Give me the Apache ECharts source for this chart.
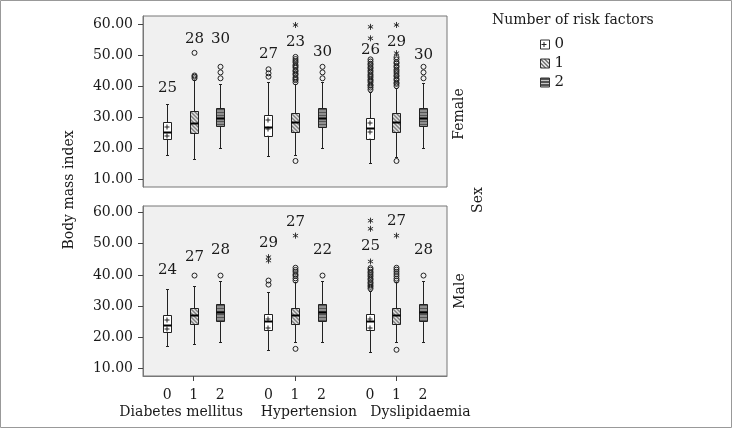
<!DOCTYPE html>
<html><head><meta charset="utf-8">
<script src="https://cdn.jsdelivr.net/npm/echarts@6/dist/echarts.min.js"></script>
<style>html,body{margin:0;padding:0;background:#fff}#c{width:732px;height:429px}</style>
</head><body><div id="c"></div>
<script>
// ---------- data ----------
const categories = ['Diabetes mellitus', 'Hypertension', 'Dyslipidaemia'];
const riskGroups = ['0', '1', '2'];
const panelNames = ['Female', 'Male'];
const yTicks = [10, 20, 30, 40, 50, 60];

// box stats per category: [min, Q1, median, Q3, max]
const femaleBox0 = [[17.7, 22.8, 25.3, 28.3, 34.2], [17.4, 23.9, 26.7, 30.6, 41.4], [15.0, 22.8, 26.4, 29.6, 38.2]];
const femaleBox1 = [[16.3, 24.7, 28.0, 31.9, 41.9], [17.7, 25.3, 28.3, 31.4, 40.6], [17.2, 25.3, 28.3, 31.4, 39.3]];
const femaleBox2 = [[20.1, 27.1, 29.6, 32.8, 40.6], [20.1, 26.9, 29.6, 32.8, 41.4], [20.1, 27.1, 29.6, 32.8, 41.0]];
const maleBox0 = [[17.1, 21.6, 23.8, 27.3, 35.5], [16.0, 22.4, 25.2, 27.5, 34.5], [15.2, 22.2, 25.2, 27.5, 35.0]];
const maleBox1 = [[17.9, 24.3, 27.0, 29.5, 36.3], [18.4, 24.3, 27.0, 29.5, 37.7], [18.4, 24.3, 27.0, 29.5, 37.7]];
const maleBox2 = [[18.4, 25.2, 28.0, 30.7, 37.9], [18.4, 25.2, 28.0, 30.7, 37.9], [18.4, 25.2, 28.0, 30.7, 37.9]];

// outliers (circles) per category
const femaleCircles0 = [[], [43.0, 44.1, 45.4], [38.8, 39.5, 40.1, 40.4, 41.2, 41.7, 42.1, 42.8, 43.3, 43.8, 44.5, 45.0, 45.7, 46.1, 46.8, 47.2, 47.9, 48.6]];
const femaleCircles1 = [[42.5, 43.0, 43.4, 50.7], [15.8, 41.2, 41.9, 42.3, 42.8, 43.6, 44.0, 44.7, 45.1, 45.9, 46.4, 46.8, 47.6, 48.1, 48.7, 49.4], [15.8, 40.0, 40.7, 41.1, 41.9, 42.3, 43.1, 43.5, 44.2, 44.8, 45.3, 46.1, 46.5, 47.3, 47.7, 48.6, 49.3]];
const femaleCircles2 = [[42.5, 44.4, 46.2], [42.5, 44.4, 46.2], [42.5, 44.4, 46.2]];
const maleCircles0 = [[], [36.9, 38.2], [35.6, 36.2, 36.7, 37.3, 37.7, 38.4, 38.8, 39.5, 40.0, 40.6, 41.0, 41.7, 42.2]];
const maleCircles1 = [[39.8], [16.3, 38.2, 38.9, 39.7, 40.2, 41.0, 41.6, 42.3], [16.0, 38.2, 38.8, 39.6, 40.3, 41.0, 41.7, 42.3]];
const maleCircles2 = [[39.8], [39.8], [39.8]];

// extreme values (stars) per category
const femaleStars0 = [[], [], [55.4, 59.1]];
const femaleStars1 = [[], [59.7], [50.6, 59.7]];
const femaleStars2 = [[], [], []];
const maleStars0 = [[], [44.6, 45.7], [44.3, 54.8, 57.4]];
const maleStars1 = [[], [52.6], [52.6]];
const maleStars2 = [[], [], []];

// count labels and the BMI level at which each is written
const femaleCount0 = [25, 27, 26];
const femaleCount1 = [28, 23, 29];
const femaleCount2 = [30, 30, 30];
const maleCount0 = [24, 29, 25];
const maleCount1 = [27, 27, 27];
const maleCount2 = [28, 22, 28];
const femaleLabelAt0 = [39.4, 50.2, 51.6];
const femaleLabelAt1 = [55.1, 54.1, 54.1];
const femaleLabelAt2 = [55.1, 51.1, 50.0];
const maleLabelAt0 = [41.4, 50.2, 49.4];
const maleLabelAt1 = [45.7, 56.9, 57.4];
const maleLabelAt2 = [47.8, 47.8, 47.8];

// ---------- styling ----------
const FONT = 'DejaVu Serif';
const TXT = '#1a1a1a';
const OFFSET = 0.262;   // fraction of category band between neighbouring risk groups
const BOX_W = 8, CAP_W = 3;

function makePattern(w, h, draw) {
  const c = document.createElement('canvas');
  c.width = w; c.height = h;
  const g = c.getContext('2d');
  draw(g);
  return { image: c, repeat: 'repeat' };
}
const patterns = [
  makePattern(8, 9, g => { g.fillStyle = '#fff'; g.fillRect(0, 0, 8, 9); g.fillStyle = '#222'; g.fillRect(3, 2, 1, 5); g.fillRect(1, 4, 5, 1); }),
  makePattern(4, 4, g => { g.fillStyle = '#fff'; g.fillRect(0, 0, 4, 4); g.strokeStyle = '#333'; g.lineWidth = 1.1;
    g.beginPath(); g.moveTo(-1, -1); g.lineTo(5, 5); g.moveTo(-1, 3); g.lineTo(1, 5); g.moveTo(3, -1); g.lineTo(5, 1); g.stroke(); }),
  makePattern(1, 3, g => { g.fillStyle = '#555'; g.fillRect(0, 0, 1, 3); g.fillStyle = '#c8c8c8'; g.fillRect(0, 2, 1, 1); })
];

const panelData = [
  { box: [femaleBox0, femaleBox1, femaleBox2], circles: [femaleCircles0, femaleCircles1, femaleCircles2],
    stars: [femaleStars0, femaleStars1, femaleStars2], counts: [femaleCount0, femaleCount1, femaleCount2],
    labelAt: [femaleLabelAt0, femaleLabelAt1, femaleLabelAt2] },
  { box: [maleBox0, maleBox1, maleBox2], circles: [maleCircles0, maleCircles1, maleCircles2],
    stars: [maleStars0, maleStars1, maleStars2], counts: [maleCount0, maleCount1, maleCount2],
    labelAt: [maleLabelAt0, maleLabelAt1, maleLabelAt2] }
];

function xPos(api, cat, risk, v) {
  const band = api.size([1, 0])[0];
  return Math.round(api.coord([cat, v])[0] + (risk - 1) * band * OFFSET) + 0.5;
}
function ln(x1, y1, x2, y2, w, c) {
  return { type: 'line', shape: { x1, y1, x2, y2 }, style: { stroke: c || '#222', lineWidth: w || 1 } };
}
function boxRenderer(risk) {
  return function (params, api) {
    const cat = api.value(0);
    const x = xPos(api, cat, risk, api.value(3));
    const Y = k => Math.round(api.coord([cat, api.value(k)])[1]) + 0.5;
    const yMin = Y(1), yQ1 = Y(2), yMed = Y(3), yQ3 = Y(4), yMax = Y(5);
    const h = BOX_W / 2;
    return { type: 'group', children: [
      ln(x, yQ3, x, yMax, 1, '#222'), ln(x, yQ1, x, yMin, 1, '#222'),
      ln(x - CAP_W / 2, yMax, x + CAP_W / 2, yMax, 1, '#222'),
      ln(x - CAP_W / 2, yMin, x + CAP_W / 2, yMin, 1, '#222'),
      { type: 'rect', x: x - h, y: yQ3, shape: { x: 0, y: 0, width: BOX_W, height: yQ1 - yQ3 },
        style: { fill: patterns[risk], stroke: '#222', lineWidth: 1 } },
      ln(x - h, yMed, x + h, yMed, 2, '#000')
    ] };
  };
}
function circleRenderer(risk) {
  return function (params, api) {
    const cat = api.value(0), v = api.value(1);
    const x = xPos(api, cat, risk, v), y = api.coord([cat, v])[1];
    return { type: 'circle', shape: { cx: x, cy: y, r: 2.5 }, style: { fill: 'none', stroke: '#222', lineWidth: 1 } };
  };
}
function starRenderer(risk) {
  return function (params, api) {
    const cat = api.value(0), v = api.value(1);
    const x = xPos(api, cat, risk, v), y = api.coord([cat, v])[1];
    return { type: 'group', children: [
      ln(x, y - 3, x, y + 3, 0.9, '#222'),
      ln(x - 2.6, y - 1.5, x + 2.6, y + 1.5, 0.9, '#222'),
      ln(x - 2.6, y + 1.5, x + 2.6, y - 1.5, 0.9, '#222')
    ] };
  };
}
function labelRenderer(risk) {
  return function (params, api) {
    const cat = api.value(0), v = api.value(1);
    const x = xPos(api, cat, risk, v), y = api.coord([cat, v])[1];
    return { type: 'text', x: x, y: y, style: { text: String(api.value(2)), fontFamily: FONT, fontSize: 15, fill: TXT, align: 'center', verticalAlign: 'middle' } };
  };
}
function flatten(perCat) {
  const out = [];
  perCat.forEach((vals, i) => vals.forEach(v => out.push([i, v])));
  return out;
}

const series = [];
panelData.forEach((pd, p) => {
  riskGroups.forEach((name, r) => {
    const common = { name: name, type: 'custom', xAxisIndex: p, yAxisIndex: p, silent: true,
      itemStyle: { color: patterns[r], borderColor: '#222', borderWidth: 1 } };
    series.push(Object.assign({}, common, { renderItem: boxRenderer(r), data: pd.box[r].map((b, i) => [i].concat(b)) }));
    series.push(Object.assign({}, common, { renderItem: circleRenderer(r), data: flatten(pd.circles[r]) }));
    series.push(Object.assign({}, common, { renderItem: starRenderer(r), data: flatten(pd.stars[r]) }));
    series.push(Object.assign({}, common, { renderItem: labelRenderer(r), data: pd.counts[r].map((n, i) => [i, pd.labelAt[r][i], n]) }));
  });
});

const grids = [
  { left: 143, top: 16, width: 304, height: 171 },
  { left: 143, top: 206, width: 304, height: 170 }
].map(g => Object.assign(g, { show: true, backgroundColor: '#f0f0f0', borderColor: '#777', borderWidth: 1 }));

const yRanges = [[7.4, 62.6], [7.6, 62.1]];

const option = {
  animation: false,
  grid: grids,
  xAxis: [0, 1].map(p => ({
    type: 'category', gridIndex: p, data: categories, boundaryGap: true, show: p === 1,
    name: p === 1 ? categories.join('    ').replace('Hypertension    ', 'Hypertension   ') : '',
    nameLocation: 'middle', nameGap: 29,
    nameTextStyle: { fontFamily: FONT, fontSize: 14, color: TXT },
    axisLine: { show: true, lineStyle: { color: '#777' } },
    axisTick: { show: true, alignWithLabel: true, length: 5, lineStyle: { color: '#444' } },
    axisLabel: {
      interval: 0, hideOverlap: false,
      margin: 12, fontFamily: FONT, fontSize: 14, color: TXT,
      formatter: () => riskGroups.map(g => '{d|' + g + '}').join(''),
      rich: { d: { width: 26.5, align: 'center', fontFamily: FONT, fontSize: 14, color: TXT } }
    }
  })),
  yAxis: [0, 1].map(p => ({
    type: 'value', gridIndex: p, min: yRanges[p][0], max: yRanges[p][1],
    splitLine: { show: false },
    axisLine: { show: true, lineStyle: { color: '#777' } },
    axisTick: { show: true, length: 5, customValues: yTicks, lineStyle: { color: '#444' } },
    axisLabel: { customValues: yTicks, margin: 10, fontFamily: FONT, fontSize: 14, color: TXT, formatter: v => v.toFixed(2) }
  })),
  legend: {
    data: riskGroups, orient: 'vertical', left: 535, top: 32, icon: 'rect',
    itemWidth: 9, itemHeight: 9, itemGap: 4, selectedMode: false,
    itemStyle: { borderColor: '#333', borderWidth: 1 },
    textStyle: { fontFamily: FONT, fontSize: 15, color: TXT, lineHeight: 15 }
  },
  graphic: [
    { type: 'rect', shape: { x: 0.5, y: 0.5, width: 731, height: 427 }, style: { fill: 'none', stroke: '#999', lineWidth: 1 }, silent: true },
    { type: 'text', x: 492, y: 20, style: { text: 'Number of risk factors', fontFamily: FONT, fontSize: 14, fill: TXT, align: 'left', verticalAlign: 'middle' } },
    { type: 'text', x: 69, y: 190, rotation: Math.PI / 2, style: { text: 'Body mass index', fontFamily: FONT, fontSize: 14, fill: TXT, align: 'center', verticalAlign: 'middle' } },
    { type: 'text', x: 459, y: 114, rotation: Math.PI / 2, style: { text: panelNames[0], fontFamily: FONT, fontSize: 14, fill: TXT, align: 'center', verticalAlign: 'middle' } },
    { type: 'text', x: 460, y: 291, rotation: Math.PI / 2, style: { text: panelNames[1], fontFamily: FONT, fontSize: 14, fill: TXT, align: 'center', verticalAlign: 'middle' } },
    { type: 'text', x: 478, y: 200, rotation: Math.PI / 2, style: { text: 'Sex', fontFamily: FONT, fontSize: 14, fill: TXT, align: 'center', verticalAlign: 'middle' } }
  ],
  series: series
};
const chart = echarts.init(document.getElementById('c'), null, { renderer: 'canvas' });
chart.setOption(option);
</script></body></html>
